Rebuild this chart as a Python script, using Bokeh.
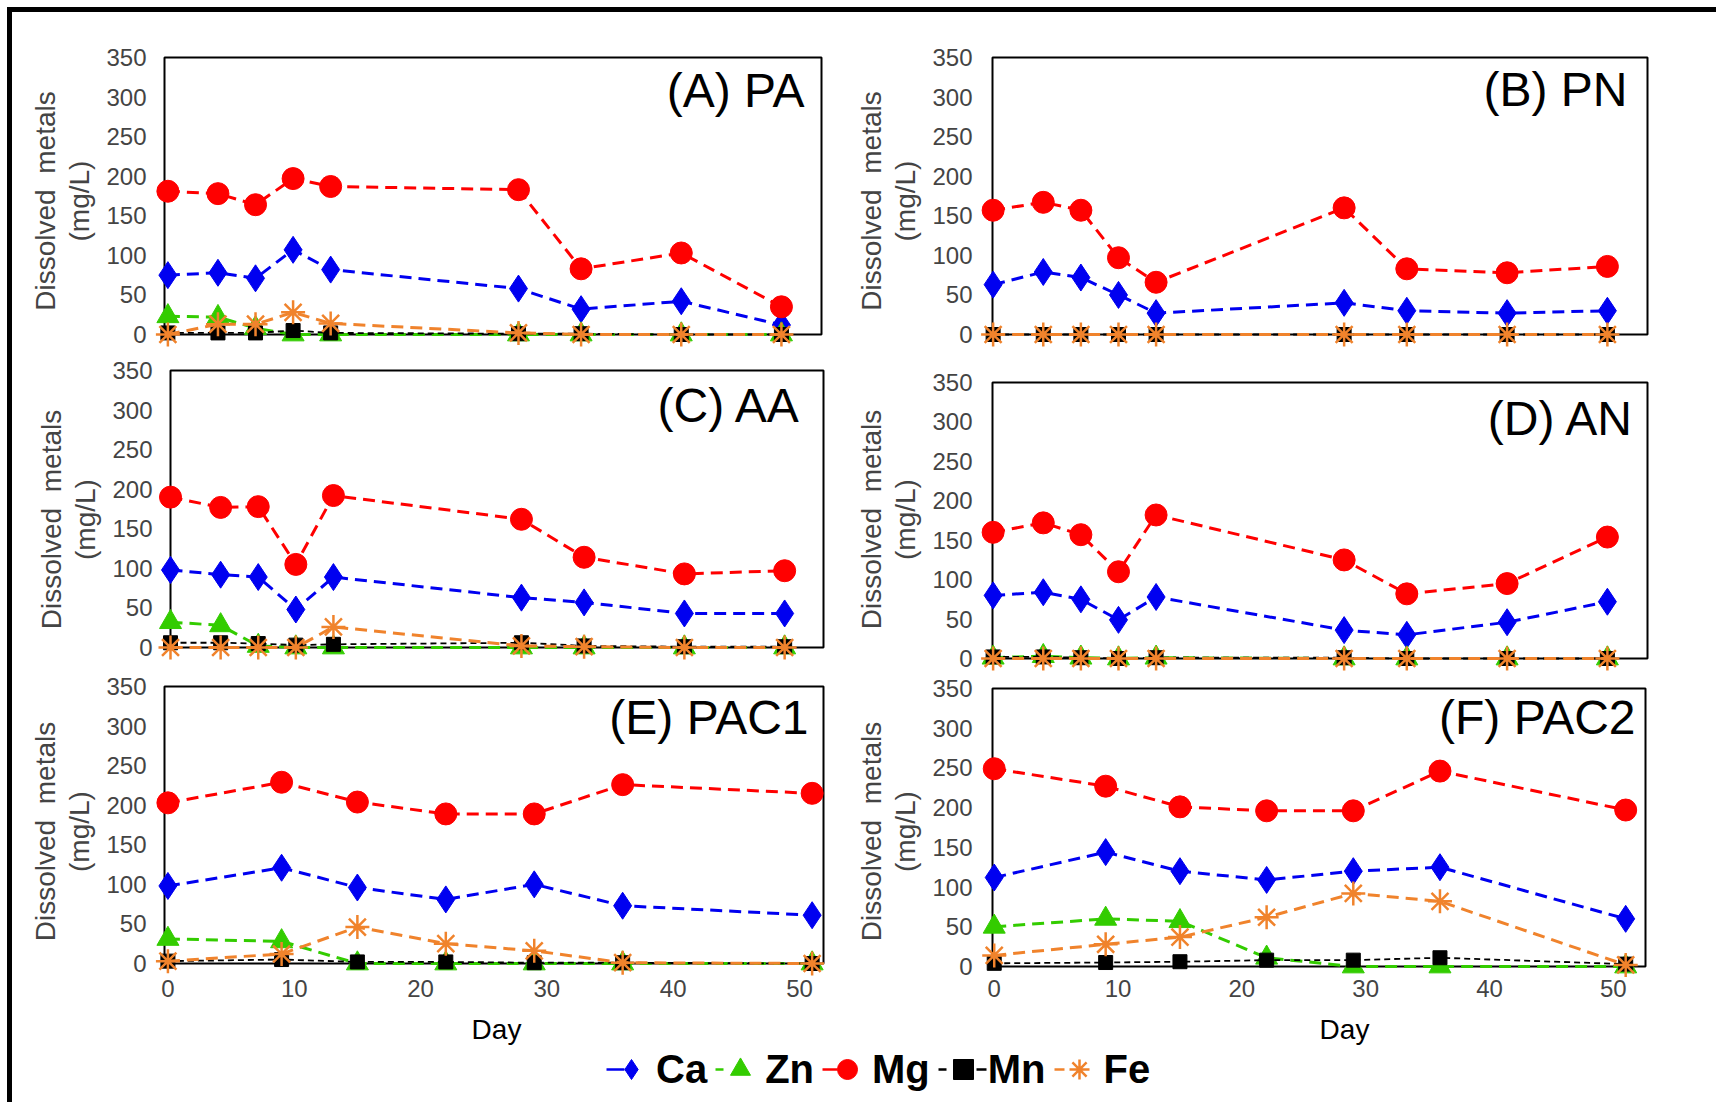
from bokeh.plotting import figure
from bokeh.models import (Range1d, BoxAnnotation, Label, Legend, LegendItem, FixedTicker,
                          Div, Spacer, LinearAxis)
from bokeh.layouts import row, column
from bokeh.embed import file_html
from bokeh.resources import INLINE

NaN = float("nan")

# ---------------- data ----------------
days_early = [0, 4, 7, 10, 13, 28, 33, 41, 49]
days_late = [0, 9, 15, 22, 29, 36, 51]

metals = ["Ca", "Zn", "Mg", "Mn", "Fe"]
y_ticks = [0, 50, 100, 150, 200, 250, 300, 350]
x_ticks = [0, 10, 20, 30, 40, 50]
panel_titles = ["(A) PA", "(B) PN", "(C) AA", "(D) AN", "(E) PAC1", "(F) PAC2"]
y_title_1 = "Dissolved\u00a0 metals"
y_title_2 = "(mg/L)"
x_title = "Day"

A_Ca = [75, 78, 71, 107, 82, 58, 32, 42, 12]
A_Zn = [23, 22, 8, 0, 0, 0, 0, 0, 0]
A_Mg = [181, 178, 164, 197, 187, 183, 83, 103, 35]
A_Mn = [2, 2, 2, 5, 2, 1, 1, 0, 0]
A_Fe = [0, 13, 13, 28, 14, 2, 0, 0, 0]

B_Ca = [63, 79, 72, 50, 27, 40, 30, 27, 30]
B_Zn = [NaN, NaN, NaN, NaN, NaN, NaN, NaN, NaN, NaN]
B_Mg = [157, 167, 157, 97, 66, 160, 83, 78, 86]
B_Mn = [0, 0, 0, 0, 0, 0, 0, 0, 0]
B_Fe = [0, 0, 0, 0, 0, 0, 0, 0, 0]

C_Ca = [98, 92, 89, 48, 89, 63, 57, 43, 43]
C_Zn = [32, 28, 2, 0, 0, 0, 0, 0, 0]
C_Mg = [190, 177, 178, 105, 192, 162, 114, 93, 97]
C_Mn = [6, 6, 5, 3, 4, 6, 2, 1, 1]
C_Fe = [0, 0, 0, 0, 26, 2, 1, 0, 0]

D_Ca = [80, 84, 75, 49, 78, 36, 30, 46, 72]
D_Zn = [1, 3, 1, 0, 1, 0, 0, 0, 0]
D_Mg = [160, 172, 157, 110, 182, 125, 82, 95, 154]
D_Mn = [2, 2, 1, 0, 1, 1, 0, 0, 0]
D_Fe = [0, 0, 0, 0, 0, 0, 0, 0, 0]

E_Ca = [98, 121, 96, 81, 100, 73, 61]
E_Zn = [31, 28, 0, 0, 0, 0, 0]
E_Mg = [203, 229, 204, 189, 189, 226, 215]
E_Mn = [3, 5, 2, 2, 1, 1, 0]
E_Fe = [3, 12, 46, 25, 16, 1, 0]

F_Ca = [112, 144, 120, 109, 120, 125, 60]
F_Zn = [50, 60, 57, 11, 0, 0, 0]
F_Mg = [249, 227, 201, 196, 196, 246, 197]
F_Mn = [4, 5, 6, 8, 8, 11, 3]
F_Fe = [14, 28, 37, 62, 92, 82, 2]

# ---------------- styles ----------------
STYLE = {
    "Ca": dict(color="#0000F0", marker="diamond", size=27, dash="12 7", lw=3, leg_dash="18 100"),
    "Zn": dict(color="#33CC00", marker="triangle", size=22, dash="12 7", lw=3, leg_dash="8 100"),
    "Mg": dict(color="#FF0000", marker="circle", size=22, dash="12 7", lw=3, leg_dash="15 100"),
    "Mn": dict(color="#000000", marker="square", size=14, dash="6 4", lw=1.8, leg_dash="8 30 10"),
    "Fe": dict(color="#F0832C", marker="asterisk", size=24, dash="12 7", lw=3, leg_dash="10 100"),
}
FONT = "Liberation Sans"

# absolute geometry of each panel's box: L, R, T, B(y=0), xlo, xhi,
# title right inset, title centre below box top, frame top, frame bottom, label standoff
GEOM = {
    "A": (164, 821, 57, 334, -0.27, 52.2, 17, 33, 54, 347, 5),
    "B": (992, 1647, 57, 334, -0.05, 52.2, 20, 32, 54, 347, 7),
    "C": (170, 823, 370, 647, 0.0, 52.1, 22, 35, 367, 671, 5),
    "D": (992, 1647, 382, 658, -0.05, 52.2, 13, 36, 367, 671, 7),
    "E": (164, 823, 686, 963, -0.27, 51.9, 15, 31, 683, 979, 5),
    "F": (992, 1645, 688, 966, -0.14, 52.6, 10, 29, 683, 979, 7),
}
COL_L = (12, 838)
COL_R = (850, 866)
ROWS = [(12, 340), (352, 320), (672, 342)]
STRIP = (1014, 88)
DAY_X = [496, 1344]
DAY_Y = 1029


def make_panel(key, title, days, series, col, rw, show_x):
    L, R, T, B, xlo, xhi, inset, tmid, ftop, fbot, lstand = GEOM[key]
    col_left, col_w = col
    row_top, row_h = rw
    sx = (R - L) / (xhi - xlo)
    sy = (B - T) / 350.0
    padx = 13
    fw = (R - L) + 2 * padx
    fh = fbot - ftop
    mbl = L - padx - col_left
    mbt = ftop - row_top
    mbr = col_w - mbl - fw
    mbb = row_h - mbt - fh
    p = figure(frame_width=fw, frame_height=fh,
               x_range=Range1d(xlo - padx / sx, xhi + padx / sx),
               y_range=Range1d(-(fbot - B) / sy, 350 + (T - ftop) / sy),
               min_border_left=mbl, min_border_right=mbr,
               min_border_top=mbt, min_border_bottom=mbb,
               toolbar_location=None, output_backend="svg")
    p.outline_line_color = None
    p.xgrid.visible = False
    p.ygrid.visible = False
    p.background_fill_color = "white"
    p.border_fill_color = "white"

    box = BoxAnnotation(left=xlo, right=xhi, bottom=0, top=350,
                        fill_alpha=0, line_color="black", line_alpha=1.0,
                        line_width=2, level="underlay")
    p.add_layout(box)

    ya = p.yaxis[0]
    ya.ticker = FixedTicker(ticks=y_ticks)
    ya.axis_line_color = None
    ya.major_tick_line_color = None
    ya.minor_tick_line_color = None
    ya.major_tick_in = 0
    ya.major_tick_out = 0
    ya.minor_tick_in = 0
    ya.minor_tick_out = 0
    ya.major_label_text_font = FONT
    ya.major_label_text_font_size = "24px"
    ya.major_label_standoff = lstand
    ya.axis_label = y_title_2
    ya.axis_label_text_font = FONT
    ya.axis_label_text_font_size = "28px"
    ya.axis_label_text_font_style = "normal"
    ya.axis_label_standoff = 8

    ya2 = LinearAxis(ticker=FixedTicker(ticks=[]), axis_line_color=None,
                     major_tick_in=0, major_tick_out=0, minor_tick_in=0, minor_tick_out=0,
                     major_tick_line_color=None, minor_tick_line_color=None,
                     axis_label=y_title_1, axis_label_text_font=FONT,
                     axis_label_text_font_size="28px", axis_label_text_font_style="normal",
                     axis_label_standoff=1)
    p.add_layout(ya2, "left")

    xa = p.xaxis[0]
    if show_x:
        xa.ticker = FixedTicker(ticks=x_ticks)
        xa.axis_line_color = None
        xa.major_tick_line_color = None
        xa.minor_tick_line_color = None
        xa.major_tick_in = 0
        xa.major_tick_out = 0
        xa.minor_tick_in = 0
        xa.minor_tick_out = 0
        xa.major_label_text_font = FONT
        xa.major_label_text_font_size = "24px"
        xa.major_label_standoff = 0
    else:
        xa.visible = False

    for m in metals:
        st = STYLE[m]
        vals = series[m]
        p.line(days, vals, line_color=st["color"], line_width=st["lw"], line_dash=st["dash"])
        if st["marker"] == "asterisk":
            p.scatter(days, vals, marker="asterisk", size=st["size"], line_color=st["color"], line_width=2.5)
        else:
            p.scatter(days, vals, marker=st["marker"], size=st["size"], fill_color=st["color"],
                      line_color=st["color"], line_width=1)

    p.add_layout(Label(x=xhi - inset / sx, y=350 - tmid / sy, text=title,
                       text_align="right", text_baseline="middle",
                       text_font=FONT, text_font_size="48px", text_color="black"))
    return p


def S(ca, zn, mg, mn, fe):
    return {"Ca": ca, "Zn": zn, "Mg": mg, "Mn": mn, "Fe": fe}


pA = make_panel("A", panel_titles[0], days_early, S(A_Ca, A_Zn, A_Mg, A_Mn, A_Fe), COL_L, ROWS[0], False)
pB = make_panel("B", panel_titles[1], days_early, S(B_Ca, B_Zn, B_Mg, B_Mn, B_Fe), COL_R, ROWS[0], False)
pC = make_panel("C", panel_titles[2], days_early, S(C_Ca, C_Zn, C_Mg, C_Mn, C_Fe), COL_L, ROWS[1], False)
pD = make_panel("D", panel_titles[3], days_early, S(D_Ca, D_Zn, D_Mg, D_Mn, D_Fe), COL_R, ROWS[1], False)
pE = make_panel("E", panel_titles[4], days_late, S(E_Ca, E_Zn, E_Mg, E_Mn, E_Fe), COL_L, ROWS[2], True)
pF = make_panel("F", panel_titles[5], days_late, S(F_Ca, F_Zn, F_Mg, F_Mn, F_Fe), COL_R, ROWS[2], True)

# ------------- bottom strip: x-axis titles and legend -------------
strip_top, strip_h = STRIP
pl = figure(width=1704, height=strip_h, min_border=0, toolbar_location=None, output_backend="svg",
            x_range=Range1d(12, 1716), y_range=Range1d(strip_top + strip_h, strip_top))
pl.axis.visible = False
pl.grid.visible = False
pl.outline_line_color = None
pl.background_fill_color = "white"
pl.border_fill_color = "white"
for dx in DAY_X:
    pl.add_layout(Label(x=dx, y=DAY_Y, text=x_title, text_align="center", text_baseline="middle",
                        text_font=FONT, text_font_size="28px", text_color="black"))

# legend proxies: real data, drawn outside the strip's visible range
legend_series = S(E_Ca, E_Zn, E_Mg, E_Mn, E_Fe)
items = []
for m in metals:
    st = STYLE[m]
    rl = pl.line(days_late, legend_series[m], line_color=st["color"], line_width=2.5,
                 line_dash=st["leg_dash"])
    if st["marker"] == "asterisk":
        rs = pl.scatter(days_late, legend_series[m], marker="asterisk", size=22,
                        line_color=st["color"], line_width=2.5)
    else:
        rs = pl.scatter(days_late, legend_series[m], marker=st["marker"], size=22,
                        fill_color=st["color"], line_color=st["color"])
    items.append(LegendItem(label=m, renderers=[rl, rs]))
legend = Legend(items=items, orientation="horizontal", location=(594, 8),
                label_text_font=FONT, label_text_font_size="40px", label_text_font_style="bold",
                label_text_color="black",
                glyph_width=50, glyph_height=50, label_standoff=0, spacing=8,
                padding=0, margin=0, border_line_color=None, background_fill_alpha=0)
pl.add_layout(legend, "center")

content = column(row(pA, pB), row(pC, pD), row(pE, pF), pl)

top_bar = row(Spacer(width=7, height=5),
              Div(text="", width=1709, height=5, margin=0,
                  styles={"background-color": "black"}))
main = row(Spacer(width=7, height=1090),
           Div(text="", width=5, height=1090, margin=0, styles={"background-color": "black"}),
           content)
layout = column(Spacer(width=1716, height=7), top_bar, main)

open("out.html", "w").write(file_html(layout, INLINE))
